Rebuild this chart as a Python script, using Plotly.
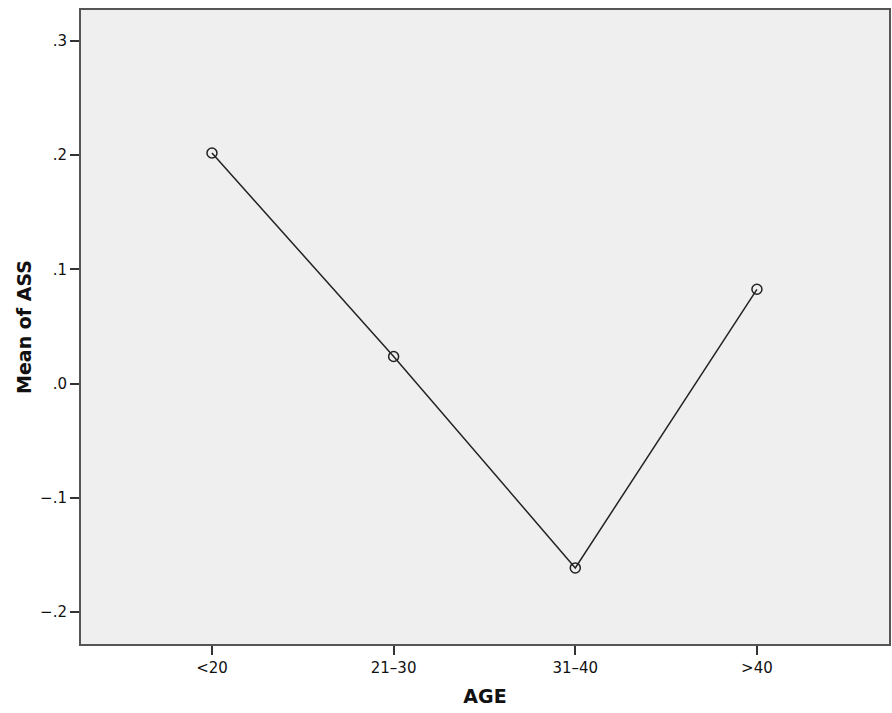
import plotly.graph_objects as go

categories = ["<20", "21\u201330", "31\u201340", ">40"]
mean_ass = [0.2018, 0.0237, -0.1614, 0.0825]
y_ticks = [-0.2, -0.1, 0.0, 0.1, 0.2, 0.3]
y_tick_labels = ["\u2212.2", "\u2212.1", ".0", ".1", ".2", ".3"]

fig = go.Figure()
fig.add_trace(go.Scatter(
    x=list(range(len(categories))), y=mean_ass,
    mode="lines+markers",
    line=dict(color="#222222", width=1.5),
    marker=dict(symbol="circle-open", size=10, color="#222222", line=dict(width=1.5)),
    showlegend=False,
))

fig.update_layout(
    width=892, height=713,
    margin=dict(l=81, r=1, t=10, b=69),
    paper_bgcolor="white",
    plot_bgcolor="#efefef",
    font=dict(family="DejaVu Sans", size=15, color="#111111"),
)
fig.update_xaxes(
    range=[-0.721, 3.727],
    tickvals=list(range(len(categories))), ticktext=categories,
    ticks="outside", ticklen=9, tickwidth=2, tickcolor="#333333",
    showline=True, linecolor="#555555", linewidth=2, mirror=True,
    showgrid=False, zeroline=False,
    title=dict(text="<b>AGE</b>", font=dict(size=19), standoff=14),
)
fig.update_yaxes(
    range=[-0.228, 0.327],
    tickvals=y_ticks, ticktext=y_tick_labels,
    ticks="outside", ticklen=9, tickwidth=2, tickcolor="#333333",
    showline=True, linecolor="#555555", linewidth=2, mirror=True,
    showgrid=False, zeroline=False,
    title=dict(text="<b>Mean of ASS</b>", font=dict(size=19), standoff=3),
)

fig.write_html(
    "out.html",
    config={"displayModeBar": False},
    post_script="document.body.style.margin='0';document.body.style.overflow='hidden';",
)
